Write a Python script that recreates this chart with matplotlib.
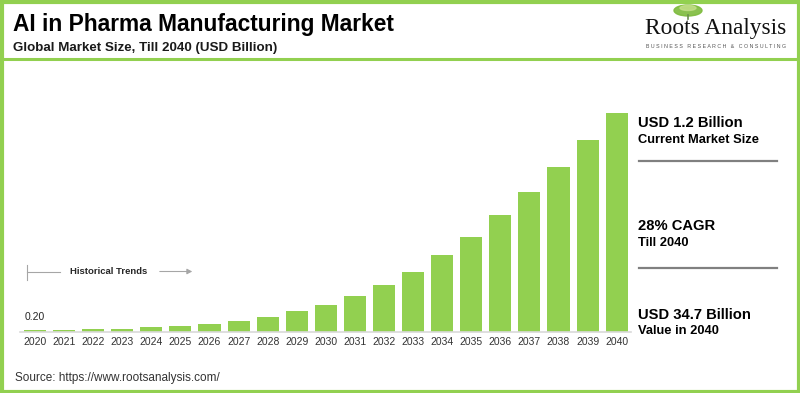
import matplotlib
matplotlib.use("Agg")
import matplotlib.pyplot as plt
from matplotlib.patches import Rectangle, Ellipse, FancyArrowPatch
from matplotlib.lines import Line2D

years = [str(y) for y in range(2020, 2041)]
values = [0.20, 0.25, 0.35, 0.45, 0.67, 0.87, 1.2, 1.72, 2.26, 3.2, 4.2,
          5.65, 7.4, 9.5, 12.2, 15.1, 18.5, 22.2, 26.2, 30.5, 34.7]
first_label = "0.20"
title = "AI in Pharma Manufacturing Market"
subtitle = "Global Market Size, Till 2040 (USD Billion)"
side_texts = [("USD 1.2 Billion", "Current Market Size"),
              ("28% CAGR", "Till 2040"),
              ("USD 34.7 Billion", "Value in 2040")]
source = "Source: https://www.rootsanalysis.com/"

W, H = 800, 393
GREEN = "#92D050"
plt.rcParams['font.family'] = ['Liberation Sans', 'DejaVu Sans']

fig = plt.figure(figsize=(W / 100, H / 100), dpi=100)
fig.patch.set_facecolor("white")

def fx(px):
    return px / W

def fy(py):
    return 1 - py / H

# border and separator line
fig.add_artist(Rectangle((fx(1.5), fy(391.5)), fx(797), 1 - 3 / H, transform=fig.transFigure,
                         fill=False, edgecolor=GREEN, linewidth=3))
fig.add_artist(Line2D([0, 1], [fy(58.5), fy(58.5)], transform=fig.transFigure,
                      color=GREEN, linewidth=2.2))

# titles
fig.text(fx(13), fy(24), title, fontsize=16.4, fontweight='bold', color='black',
         ha='left', va='center')
fig.text(fx(13), fy(48), subtitle, fontsize=9.6, fontweight='bold', color='#1a1a1a',
         ha='left', va='center')

# logo
fig.add_artist(Ellipse((fx(688), fy(10.5)), fx(28), 11 / H, transform=fig.transFigure,
                       color='#7dbb3c', alpha=0.9))
fig.add_artist(Ellipse((fx(688), fy(8)), fx(16), 5 / H, transform=fig.transFigure,
                       color='#c5e08a', alpha=0.8))
fig.add_artist(Line2D([fx(688), fx(688)], [fy(15), fy(19)], transform=fig.transFigure,
                      color='#6b8e4e', linewidth=1.2))
fig.text(fx(716), fy(28.5), "Roots Analysis", fontsize=16.8, family='Liberation Serif',
         color='#111111', ha='center', va='center')
fig.text(fx(716), fy(46), "B U S I N E S S   R E S E A R C H   &   C O N S U L T I N G",
         fontsize=3.8, color='#555555', ha='center', va='center')

# bar axes
left_px, right_px = 20.46, 631.2
base_py = 331.5
ymax = 36
ppu = 218.2 / 34.7
height_px = ymax * ppu
ax = fig.add_axes([fx(left_px), (H - base_py) / H, (right_px - left_px) / W, height_px / H])
x = list(range(len(years)))
ax.bar(x, values, width=0.757, color=GREEN, zorder=2)
ax.set_xlim(-0.5, len(years) - 0.5)
ax.set_ylim(0, ymax)
for s in ['top', 'right', 'left']:
    ax.spines[s].set_visible(False)
ax.spines['bottom'].set_color('#d9d9d9')
ax.spines['bottom'].set_linewidth(1.2)
ax.set_yticks([])
ax.set_xticks(x)
ax.set_xticklabels(years, fontsize=7.5, color='#333333')
ax.tick_params(axis='x', length=0, pad=4)
ax.patch.set_alpha(0)
ax.annotate(first_label, (x[0], values[0]), xytext=(0, 6), textcoords='offset points',
            ha='center', va='bottom', fontsize=7.5, color='#262626')

# historical trends marker
fig.add_artist(Line2D([fx(26.5), fx(26.5)], [fy(265), fy(280)], transform=fig.transFigure,
                      color='#a6a6a6', linewidth=0.8))
fig.add_artist(Line2D([fx(26.5), fx(60)], [fy(271.5), fy(271.5)], transform=fig.transFigure,
                      color='#a6a6a6', linewidth=0.8))
fig.text(fx(70), fy(271.5), "Historical Trends", fontsize=6.8, fontweight='bold',
         color='#262626', ha='left', va='center')
fig.add_artist(FancyArrowPatch(
    (fx(157), fy(271.5)), (fx(195), fy(271.5)), transform=fig.transFigure,
    arrowstyle='-|>,head_length=3,head_width=1.6', color='#a6a6a6', linewidth=0.8))

# side panel texts
rows = [(123, 140), (226.5, 243), (315, 331.5)]
for (t1, t2), (y1, y2) in zip(side_texts, rows):
    fig.text(fx(638), fy(y1), t1, fontsize=10.6, fontweight='bold', color='black',
             ha='left', va='center')
    fig.text(fx(638), fy(y2), t2, fontsize=9.3, fontweight='bold', color='black',
             ha='left', va='center')
for ly in (160.5, 268):
    fig.add_artist(Line2D([fx(639), fx(777)], [fy(ly), fy(ly)], transform=fig.transFigure,
                          color='#808080', linewidth=1.6))

fig.text(fx(15), fy(377.5), source, fontsize=8.5, color='#333333', ha='left', va='center')

fig.savefig("out.png", dpi=100, facecolor='white')
